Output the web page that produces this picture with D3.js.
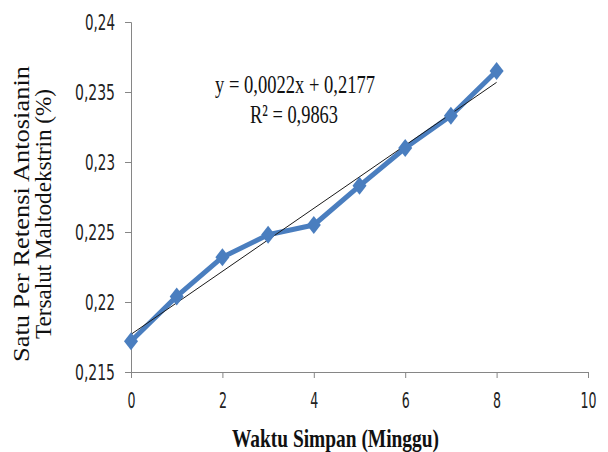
<!DOCTYPE html>
<html>
  <head>
    <meta charset="utf-8">
    <script src="https://cdn.jsdelivr.net/npm/d3@7"></script>
    <style>
      body { margin: 0; background: white; }
      svg { display: block; }
    </style>
  </head>
  <body>
    <script>
      // weeks of storage and measured retention values
      const weeks = [0, 1, 2, 3, 4, 5, 6, 7, 8]
      const retention = [0.2172, 0.2204, 0.2232, 0.2248, 0.2255, 0.2283, 0.2310, 0.2333, 0.2365]
      const xTicks = [0, 2, 4, 6, 8, 10]
      const yTicks = [0.215, 0.22, 0.225, 0.23, 0.235, 0.24]
      const equationText = 'y = 0,0022x + 0,2177'
      const r2Text = 'R² = 0,9863'
      const xTitle = 'Waktu Simpan (Minggu)'
      const yTitle = ['Satu Per Retensi Antosianin', 'Tersalut Maltodekstrin (%)']

      const W = 608, H = 452
      const svg = d3.select('body').append('svg').attr('width', W).attr('height', H)

      const x = d3.scaleLinear().domain([0, 10]).range([131, 588])
      const y = d3.scaleLinear().domain([0.215, 0.24]).range([372, 22])

      const axisColor = '#868686'
      const comma = v => String(v).replace('.', ',')

      // squeeze text horizontally to a given width
      function fit(sel, width) {
        return sel.attr('textLength', width).attr('lengthAdjust', 'spacingAndGlyphs')
      }

      const tickFont = '"Liberation Sans Narrow", "DejaVu Sans Condensed", sans-serif'
      const serif = '"Liberation Serif", "Times New Roman", serif'

      // y axis
      const yAxis = svg.append('g').attr('transform', `translate(${x(0)},0)`)
        .call(d3.axisLeft(y).tickValues(yTicks).tickSize(6).tickPadding(10).tickFormat(comma))
      yAxis.select('.domain').attr('stroke', axisColor)
      yAxis.selectAll('.tick line').attr('stroke', axisColor)
      yAxis.selectAll('.tick text')
        .attr('font-family', tickFont).attr('font-size', 22).attr('fill', '#222')
        .attr('dy', '0.36em')
        .each(function(d) { fit(d3.select(this), String(d).length > 4 ? 40 : 30) })

      // x axis
      const xAxis = svg.append('g').attr('transform', `translate(0,${y(0.215)})`)
        .call(d3.axisBottom(x).tickValues(xTicks).tickSize(6).tickPadding(14).tickFormat(d => d))
      xAxis.select('.domain').attr('stroke', axisColor)
      xAxis.selectAll('.tick line').attr('stroke', axisColor)
      xAxis.selectAll('.tick text')
        .attr('font-family', tickFont).attr('font-size', 22).attr('fill', '#222')
        .each(function(d) { fit(d3.select(this), d >= 10 ? 16 : 8) })

      // series line
      const pts = weeks.map((w, i) => [w, retention[i]])
      const line = d3.line().x(d => x(d[0])).y(d => y(d[1]))
      svg.append('path').attr('d', line(pts))
        .attr('fill', 'none').attr('stroke', '#4a7ebf').attr('stroke-width', 5)
        .attr('stroke-linejoin', 'round')

      // linear trendline (least squares over the points)
      const mx = d3.mean(weeks), my = d3.mean(retention)
      const slope = d3.sum(pts, d => (d[0] - mx) * (d[1] - my)) / d3.sum(pts, d => (d[0] - mx) ** 2)
      const icpt = my - slope * mx
      const xr = d3.extent(weeks)
      svg.append('line')
        .attr('x1', x(xr[0])).attr('y1', y(icpt + slope * xr[0]))
        .attr('x2', x(xr[1])).attr('y2', y(icpt + slope * xr[1]))
        .attr('stroke', '#1a1a1a').attr('stroke-width', 1)

      // diamond markers
      svg.selectAll('.mk').data(pts).join('path').attr('class', 'mk')
        .attr('d', 'M0,-9L7,0L0,9L-7,0Z')
        .attr('transform', d => `translate(${x(d[0])},${y(d[1])})`)
        .attr('fill', '#4a7ebf')

      // trendline equation
      fit(svg.append('text').attr('x', 215).attr('y', 93)
        .attr('font-family', serif).attr('font-size', 26).attr('fill', '#111')
        .text(equationText), 160)
      fit(svg.append('text').attr('x', 250).attr('y', 123)
        .attr('font-family', serif).attr('font-size', 26).attr('fill', '#111')
        .text(r2Text), 88)

      // axis titles
      fit(svg.append('text').attr('x', 232).attr('y', 447)
        .attr('font-family', serif).attr('font-size', 25).attr('font-weight', 'bold').attr('fill', '#111')
        .text(xTitle), 207)

      const yt = svg.append('g')
      yTitle.forEach((t, i) => {
        fit(yt.append('text')
          .attr('transform', `translate(${[29, 51][i]},214) rotate(-90)`)
          .attr('text-anchor', 'middle')
          .attr('font-family', serif).attr('font-size', 24).attr('fill', '#111')
          .text(t), [296, 250][i])
      })
    </script>
  </body>
</html>
